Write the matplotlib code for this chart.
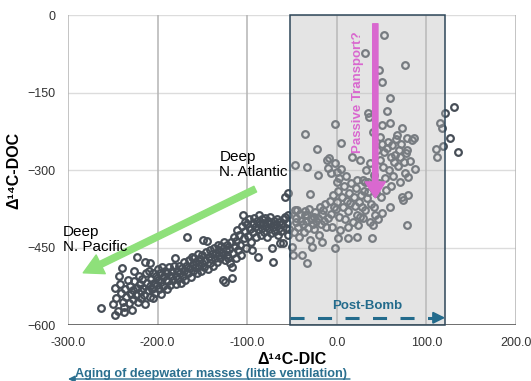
import matplotlib.pyplot as plt
from matplotlib.patches import Rectangle

plt.rcParams['font.family'] = ['Liberation Sans', 'DejaVu Sans']

# estimated (DIC, DOC) pairs, grouped by region
pacific_pts = [
    (-263, -567), (-248, -581), (-250, -560), (-246, -548), (-248, -528), (-244, -572), (-242, -520),
    (-241, -538), (-240, -490), (-239, -555), (-237, -565), (-236, -530), (-235, -545), (-233, -512),
    (-232, -558), (-231, -525), (-230, -540), (-229, -570), (-228, -532), (-227, -550), (-226, -515),
    (-224, -542), (-223, -468), (-223, -528), (-222, -556), (-221, -505), (-220, -520), (-219, -535),
    (-218, -548), (-217, -510), (-216, -528), (-215, -542), (-214, -478), (-213, -500), (-212, -518),
    (-211, -533), (-210, -495), (-209, -525), (-208, -480), (-208, -545), (-207, -510), (-206, -530),
    (-205, -500), (-204, -518), (-203, -538), (-202, -505), (-201, -522), (-200, -492), (-199, -512),
    (-198, -530), (-197, -500), (-196, -516), (-195, -488), (-194, -525), (-193, -505), (-192, -495),
    (-191, -512), (-190, -530), (-189, -500), (-188, -515), (-187, -488), (-186, -522), (-185, -505),
    (-184, -495), (-183, -512), (-182, -485), (-181, -470), (-243, -505), (-238, -575), (-226, -495),
    (-214, -560), (-205, -548), (-196, -540),
]
mid_pts = [
    (-180, -505), (-179, -520), (-178, -495), (-177, -510), (-176, -485), (-175, -500), (-174, -518),
    (-173, -490), (-172, -505), (-171, -478), (-170, -495), (-169, -512), (-168, -485), (-167, -430),
    (-166, -500), (-165, -475), (-164, -490), (-163, -508), (-162, -468), (-161, -482), (-160, -495),
    (-159, -470), (-158, -488), (-157, -478), (-156, -500), (-155, -462), (-154, -485), (-153, -472),
    (-152, -495), (-151, -480), (-150, -465), (-149, -435), (-148, -488), (-147, -475), (-146, -458),
    (-145, -437), (-144, -492), (-143, -468), (-142, -480), (-141, -455), (-140, -472), (-139, -462),
    (-138, -485), (-137, -450), (-136, -470), (-135, -460), (-134, -478), (-133, -445), (-132, -465),
    (-131, -455), (-130, -470), (-129, -448), (-128, -460), (-127, -513), (-126, -440), (-125, -517),
    (-125, -475), (-124, -455), (-123, -465), (-122, -445), (-121, -470), (-120, -452), (-119, -480),
    (-118, -440), (-117, -509), (-117, -488), (-116, -460), (-115, -430), (-114, -448), (-113, -470),
    (-112, -438), (-111, -416), (-110, -455), (-109, -425), (-108, -445), (-107, -465), (-106, -408),
    (-105, -387), (-104, -432), (-103, -400), (-102, -418), (-101, -450),
]
atlantic_pts = [
    (-100, -405), (-99, -428), (-98, -395), (-97, -415), (-96, -440), (-95, -455), (-94, -402),
    (-93, -420), (-92, -392), (-91, -410), (-90, -430), (-89, -398), (-88, -468), (-88, -415),
    (-87, -388), (-86, -405), (-85, -425), (-84, -395), (-83, -412), (-82, -402), (-81, -420),
    (-80, -392), (-79, -408), (-78, -430), (-77, -398), (-76, -415), (-75, -405), (-74, -390),
    (-73, -422), (-72, -451), (-71, -478), (-71, -410), (-70, -398), (-69, -418), (-68, -405),
    (-67, -395), (-66, -425), (-65, -412), (-64, -400), (-63, -441), (-62, -418), (-61, -405),
    (-60, -441), (-59, -395), (-58, -391), (-58, -352), (-57, -412), (-56, -402), (-55, -425),
    (-54, -344), (-54, -388), (-53, -415),
]
bomb_pts = [
    (-50, -449), (-49, -464), (-48, -420), (-47, -377), (-47, -290), (-46, -400), (-45, -392),
    (-44, -377), (-43, -410), (-42, -430), (-41, -385), (-40, -398), (-39, -464), (-38, -405),
    (-37, -420), (-36, -388), (-35, -230), (-35, -380), (-34, -398), (-33, -294), (-33, -480),
    (-33, -387), (-32, -412), (-31, -375), (-30, -346), (-30, -435), (-29, -395), (-28, -449),
    (-27, -405), (-26, -391), (-25, -415), (-24, -382), (-23, -398), (-22, -260), (-21, -310),
    (-21, -392), (-20, -425), (-19, -372), (-18, -405), (-17, -439), (-16, -385), (-15, -378),
    (-14, -398), (-13, -365), (-12, -410), (-11, -281), (-10, -296), (-10, -393), (-9, -277),
    (-8, -360), (-7, -385), (-6, -305), (-5, -410), (-4, -348), (-3, -372), (-2, -211),
    (-2, -286), (-2, -451), (-1, -375), (0, -304), (0, -323), (0, -362), (1, -340), (1, -432),
    (2, -390), (3, -315), (4, -416), (5, -248), (5, -298), (6, -352), (7, -372), (8, -330),
    (9, -395), (10, -312), (11, -360), (12, -410), (12, -432), (13, -380), (14, -345), (15, -364),
    (16, -325), (17, -275), (18, -400), (19, -352), (20, -370), (21, -335), (22, -388), (23, -430),
    (23, -319), (24, -406), (25, -362), (26, -281), (26, -391), (27, -348), (28, -372), (29, -393),
    (29, -319), (30, -340), (31, -74), (31, -323), (32, -378), (33, -300), (34, -355), (35, -190),
    (35, -323), (35, -342), (36, -197), (37, -286), (37, -400), (38, -365), (39, -432), (40, -406),
    (40, -226), (40, -335), (41, -372), (42, -310), (43, -387), (44, -345), (45, -262), (46, -395),
    (47, -106), (47, -325), (48, -236), (48, -280), (49, -352), (50, -129), (50, -213), (50, -383),
    (51, -250), (52, -294), (53, -39), (53, -265), (54, -315), (55, -338), (56, -186), (56, -258),
    (57, -245), (58, -300), (59, -160), (59, -209), (59, -372), (60, -275), (61, -330), (62, -252),
    (63, -312), (64, -285), (65, -270), (66, -240), (67, -232), (68, -292), (69, -262), (70, -275),
    (70, -323), (72, -250), (73, -219), (73, -352), (74, -358), (75, -285), (76, -97), (76, -306),
    (77, -268), (78, -238), (78, -261), (78, -406), (79, -313), (79, -348), (82, -282), (84, -242),
    (86, -238), (87, -298),
]
surface_pts = [
    (111, -260), (112, -274), (115, -209), (117, -219), (118, -253), (121, -190), (126, -238),
    (131, -178), (135, -265),
]

x_ticks = [-300, -200, -100, 0, 100, 200]
y_ticks = [-600, -450, -300, -150, 0]
bomb_range = (-52, 121)

all_pts = pacific_pts + mid_pts + atlantic_pts + bomb_pts + surface_pts
dic = [p[0] for p in all_pts]
doc = [p[1] for p in all_pts]

fig = plt.figure(figsize=(5.31, 3.81), dpi=100)
ax = fig.add_axes([68 / 531, 1 - 325 / 381, 448 / 531, 310 / 381])
ax.set_xlim(-300, 200)
ax.set_ylim(-600, 0)

for yt in y_ticks[1:]:
    ax.axhline(yt, color='#dcdcdc', lw=1, zorder=0)
for xt in x_ticks:
    ax.axvline(xt, color='#b4b4b4', lw=1.1, zorder=0)
for s in ax.spines.values():
    s.set_visible(False)
ax.axhline(-600, color='#555555', lw=1.2, zorder=1)

ax.plot(dic, doc, 'o', ms=4.8, mfc='none', mec='#474e57', mew=1.6, zorder=2)

# post-bomb shaded box
ax.add_patch(Rectangle((bomb_range[0], -600), bomb_range[1] - bomb_range[0], 600,
                       facecolor='#bebebe', alpha=0.41, edgecolor='none', zorder=3))
ax.add_patch(Rectangle((bomb_range[0], -600), bomb_range[1] - bomb_range[0], 600,
                       facecolor='none', edgecolor='#2e4759', lw=1.1, zorder=4, clip_on=False))

ax.set_xticks(x_ticks)
ax.set_xticklabels([f'{v:.1f}' for v in x_ticks])
ax.set_yticks(y_ticks)
ax.tick_params(length=0, labelsize=9, labelcolor='#333333', pad=9)

ax.set_xlabel('Δ¹⁴C-DIC', fontsize=11.5, fontweight='bold', labelpad=2)
ax.set_ylabel('Δ¹⁴C-DOC', fontsize=11.5, fontweight='bold', labelpad=4)

# green aging arrow
ax.annotate('', xy=(-283, -499), xytext=(-91, -337),
            arrowprops=dict(arrowstyle='simple,head_length=1.4,head_width=1.5,tail_width=0.45',
                            mutation_scale=10, color='#8ee07a', shrinkA=0, shrinkB=0), zorder=5)
ax.text(-131, -262, 'Deep\nN. Atlantic', fontsize=11, va='top', ha='left', linespacing=1.1, zorder=6)
ax.text(-306, -406, 'Deep\nN. Pacific', fontsize=11, va='top', ha='left', linespacing=1.1,
        zorder=6, clip_on=False)

# passive transport arrow
ax.annotate('', xy=(43, -354), xytext=(43, -17),
            arrowprops=dict(arrowstyle='simple,head_length=1.15,head_width=1.45,tail_width=0.38',
                            mutation_scale=10, color='#d968cf', shrinkA=0, shrinkB=0), zorder=5)
ax.text(24, -150, 'Passive Transport?', rotation=90, color='#d968cf', fontsize=9.5,
        fontweight='bold', ha='center', va='center', zorder=6)

# post-bomb dashed arrow
ax.plot([bomb_range[0], 110], [-586, -586], color='#236b8c', lw=2.2, dashes=(4.6, 4.4),
        solid_capstyle='butt', zorder=5)
ax.annotate('', xy=(121, -586), xytext=(109, -586),
            arrowprops=dict(arrowstyle='-|>,head_length=0.7,head_width=0.35', color='#236b8c',
                            lw=1.5, shrinkA=0, shrinkB=0), zorder=5)
ax.text(34, -563, 'Post-Bomb', color='#236b8c', fontsize=9.5, fontweight='bold',
        ha='center', va='center', zorder=6)

# aging label with underline arrow below the axes
fig.text(75 / 531, 1 - 374 / 381, 'Aging of deepwater masses (little ventilation)',
         color='#2a6f8f', fontsize=9.1, fontweight='bold', ha='left', va='center')
ax.annotate('', xy=(68, 381 - 379), xycoords='figure pixels', xytext=(350, 381 - 379),
            textcoords='figure pixels',
            arrowprops=dict(arrowstyle='-|>,head_length=0.4,head_width=0.2', color='#2a6f8f',
                            lw=1.0, shrinkA=0, shrinkB=0), annotation_clip=False)

fig.savefig('out.png', dpi=100)
